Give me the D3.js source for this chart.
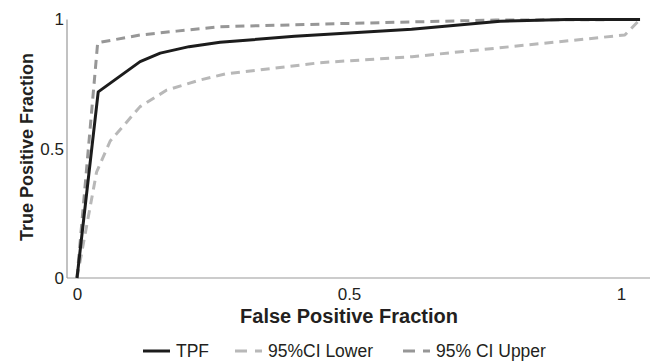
<!DOCTYPE html>
<html>
<head>
<meta charset="utf-8">
<script src="https://cdn.jsdelivr.net/npm/d3@7"></script>
<style>
  body { margin: 0; background: #fff; }
  svg text { font-family: "Liberation Sans", Arial, sans-serif; fill: #231f20; }
</style>
</head>
<body>
<div class="canvas"></div>
<script>
// ROC curve values
const tpfX   = [0, 0.039, 0.116, 0.153, 0.206, 0.263, 0.4, 0.615, 0.778, 0.9, 1.035];
const tpfY   = [0, 0.72, 0.837, 0.87, 0.895, 0.912, 0.935, 0.962, 0.993, 1.0, 1.0];
const lowerX = [0, 0.036, 0.061, 0.09, 0.116, 0.165, 0.226, 0.272, 0.447, 0.616, 1.007, 1.035];
const lowerY = [0, 0.41, 0.53, 0.6, 0.663, 0.727, 0.766, 0.789, 0.833, 0.856, 0.94, 1.0];
const upperX = [0, 0.038, 0.116, 0.183, 0.263, 0.5, 0.77, 1.035];
const upperY = [0, 0.91, 0.94, 0.955, 0.972, 0.985, 0.998, 1.0];
const xTicks = [0, 0.5, 1];
const yTicks = [0, 0.5, 1];
const seriesNames = ['TPF', '95%CI Lower', '95% CI Upper'];

const width = 652, height = 362;

const svg = d3
  .select('.canvas')
  .append('svg')
  .attr('width', width)
  .attr('height', height);

// scales
const x = d3.scaleLinear().domain([0, 1]).range([77, 621]);
const y = d3.scaleLinear().domain([0, 1]).range([278, 19.5]);

// axis lines
svg.append('line')
  .attr('x1', 67).attr('x2', 650)
  .attr('y1', y(0)).attr('y2', y(0))
  .attr('stroke', '#999').attr('stroke-width', 1.2);

svg.append('line')
  .attr('x1', 67).attr('x2', 67)
  .attr('y1', y(0)).attr('y2', y(1))
  .attr('stroke', '#999').attr('stroke-width', 1.2);

// axes (labels only)
const fmt = d3.format('~g');

const xAxis = svg.append('g')
  .attr('transform', `translate(0, ${y(0)})`)
  .call(d3.axisBottom(x).tickValues(xTicks).tickFormat(fmt).tickSize(0).tickPadding(10));
xAxis.select('.domain').remove();
xAxis.selectAll('text').attr('font-size', 17).attr('font-family', null);

const yAxis = svg.append('g')
  .attr('transform', 'translate(64, 0)')
  .call(d3.axisLeft(y).tickValues(yTicks).tickFormat(fmt).tickSize(0).tickPadding(0));
yAxis.select('.domain').remove();
yAxis.selectAll('text').attr('font-size', 17).attr('font-family', null);

// axis titles
svg.append('text')
  .attr('x', 349).attr('y', 322.5)
  .attr('text-anchor', 'middle')
  .attr('font-size', 20).attr('font-weight', 'bold')
  .text('False Positive Fraction');

svg.append('text')
  .attr('transform', 'translate(33, 147) rotate(-90)')
  .attr('text-anchor', 'middle')
  .attr('font-size', 18).attr('font-weight', 'bold')
  .text('True Positive Fraction');

// lines
const line = d3.line()
  .x(d => x(d[0]))
  .y(d => y(d[1]));

const series = [
  { name: seriesNames[1], pts: d3.zip(lowerX, lowerY), color: '#b8b8b8', dash: '9,6' },
  { name: seriesNames[2], pts: d3.zip(upperX, upperY), color: '#979797', dash: '9,6' },
  { name: seriesNames[0], pts: d3.zip(tpfX, tpfY), color: '#1c1c1c', dash: null }
];

svg.selectAll('path.curve')
  .data(series)
  .enter()
  .append('path')
  .attr('class', 'curve')
  .attr('d', d => line(d.pts))
  .attr('fill', 'none')
  .attr('stroke', d => d.color)
  .attr('stroke-width', 3)
  .attr('stroke-dasharray', d => d.dash)
  .attr('stroke-linejoin', 'round');

// legend
const legendItems = [
  { name: seriesNames[0], color: '#1c1c1c', dash: null, x: 143 },
  { name: seriesNames[1], color: '#b8b8b8', dash: '12,8', x: 235 },
  { name: seriesNames[2], color: '#979797', dash: '12,8', x: 403 }
];

const legend = svg.append('g').attr('transform', 'translate(0, 351)');

const items = legend.selectAll('g')
  .data(legendItems)
  .enter()
  .append('g')
  .attr('transform', d => `translate(${d.x}, 0)`);

items.append('line')
  .attr('x1', 0).attr('x2', 27)
  .attr('y1', 0).attr('y2', 0)
  .attr('stroke', d => d.color)
  .attr('stroke-width', 3)
  .attr('stroke-dasharray', d => d.dash);

items.append('text')
  .attr('x', 33)
  .attr('y', 6)
  .attr('font-size', 17.5)
  .text(d => d.name);
</script>
</body>
</html>
